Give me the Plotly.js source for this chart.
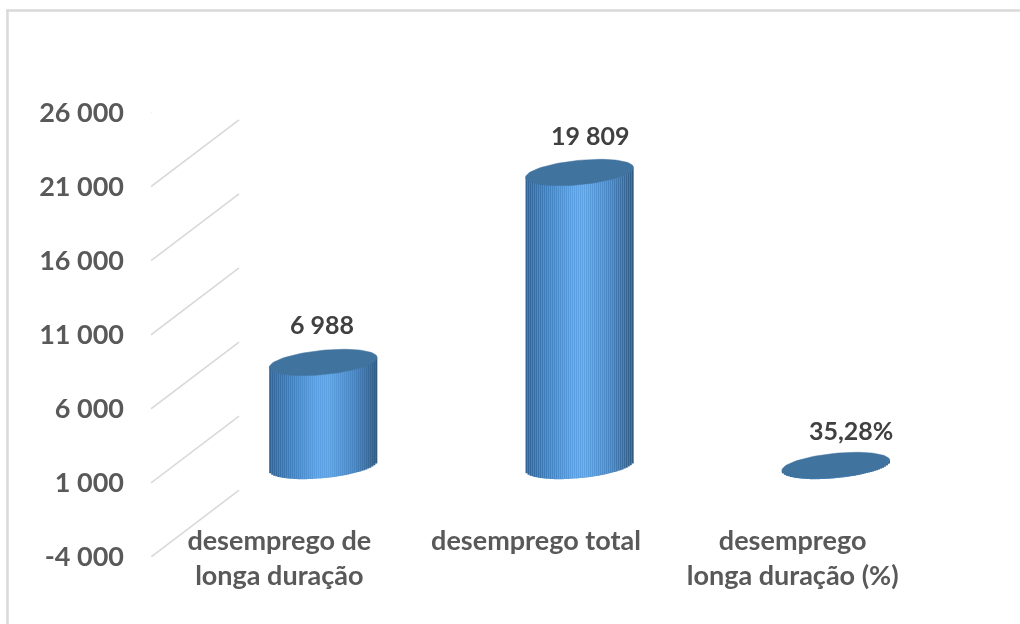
<!DOCTYPE html>
<html>
<head>
<meta charset="utf-8">
<script src="https://cdn.plot.ly/plotly-3.0.1.min.js"></script>
<style>html,body{margin:0;padding:0;background:#fff;overflow:hidden}#c{width:1020px;height:624px;filter:blur(0.35px)}</style>
</head>
<body>
<div id="c"></div>
<script>
const categories = ["desemprego de<br>longa duração", "desemprego total", "desemprego<br>longa duração (%)"];
const values = [6988, 19809, 35.28];
const valueLabels = ["6 988", "19 809", "35,28%"];
const tickValues = [-4000, 1000, 6000, 11000, 16000, 21000, 26000];
const tickLabels = ["-4 000", "1 000", "6 000", "11 000", "16 000", "21 000", "26 000"];
const labelShiftX = [-1, 11, 15];
const labelShiftY = [38, 37, 35];

const W = 1020, H = 624;
const pxPerUnit = 444.5 / 30000;
const yDomain = (bottom, top) => [(H - bottom) / H, (H - top) / H];
const xDomain = (l, r) => [l / W, r / W];
const xRange = [-0.5, 2.5], yRange = [-4000, 26000];
const bandPx = 256.5, barFrac = 108 / bandPx;
const tiltPx = 5, semiMinorPx = 12.2;

const stops = [[0,[50,100,150]],[0.2,[64,128,190]],[0.45,[91,160,226]],[0.55,[94,162,226]],[0.8,[70,130,190]],[1,[47,90,130]]];
function shade(t){
  for(let i=1;i<stops.length;i++){
    if(t<=stops[i][0]){
      const a=stops[i-1],b=stops[i],k=(t-a[0])/(b[0]-a[0]);
      return 'rgb('+a[1].map((c,j)=>Math.round(c+(b[1][j]-c)*k)).join(',')+')';
    }
  }
  return 'rgb(47,90,130)';
}

const traces = [];
// depth lines joining the front axis ticks to the back wall gridlines
const depthX = 88 / bandPx, depthY = 66.8 / pxPerUnit;
tickValues.forEach(v => traces.push({
  type:'scatter', mode:'lines', xaxis:'x2', yaxis:'y2', cliponaxis:false, hoverinfo:'skip', showlegend:false,
  x:[xRange[0], xRange[0]+depthX], y:[v, v+depthY], line:{color:'#d9d9d9', width:1.6}
}));
// cylinder bodies: vertical strips, shaded across the width
const N = 54, dw = barFrac / N;
for(let i=0;i<N;i++){
  const u = (i+0.5)/N*2-1;
  const tilt = tiltPx*u/pxPerUnit;
  const low = (tiltPx*u - semiMinorPx*Math.sqrt(1-u*u))/pxPerUnit;
  traces.push({
    type:'bar', xaxis:'x3', yaxis:'y3', showlegend:false, hoverinfo:'skip',
    x:[0,1,2], y:values.map(v=>v+tilt-low), base:values.map(()=>low),
    width:dw*1.1, offset:-barFrac/2+i*dw,
    marker:{color:shade(i/(N-1)), line:{width:0}}
  });
}
// cylinder top faces
values.forEach((v,k)=>{
  const xs=[],ys=[];
  for(let d=0;d<=360;d+=4){
    const t=d*Math.PI/180;
    xs.push(k+barFrac/2*Math.cos(t));
    ys.push(v+(tiltPx*Math.cos(t)+semiMinorPx*Math.sin(t))/pxPerUnit);
  }
  traces.push({type:'scatter',mode:'lines',xaxis:'x3',yaxis:'y3',x:xs,y:ys,fill:'toself',fillcolor:'#41739f',line:{width:0.5,color:'#41739f'},hoverinfo:'skip',showlegend:false});
});

const font = {family:'Lato, "Open Sans", sans-serif', size:27, color:'#595959', weight:700};
const hidden = {visible:false, fixedrange:true};
const layout = {
  width:W, height:H, margin:{l:0,r:0,t:0,b:0}, paper_bgcolor:'#fff', plot_bgcolor:'rgba(0,0,0,0)',
  showlegend:false, barmode:'overlay', font,
  // back wall
  xaxis:{...hidden, domain:xDomain(239,1008), range:xRange, anchor:'y'},
  yaxis:{domain:yDomain(490.5,45.5), range:yRange, tickvals:tickValues, showticklabels:false, ticks:'',
         showgrid:true, gridcolor:'#d9d9d9', gridwidth:2, zeroline:false, showline:false, anchor:'x', fixedrange:true},
  // front plane: tick labels
  xaxis2:{domain:xDomain(151,921), range:xRange, anchor:'free', position:(H-522)/H, tickvals:[0,1,2], ticktext:categories,
          showgrid:false, zeroline:false, showline:false, ticks:'', tickfont:font, fixedrange:true, tickangle:0},
  yaxis2:{domain:yDomain(557,112.5), range:yRange, tickvals:tickValues, ticktext:tickLabels, showgrid:false, zeroline:false,
          showline:false, ticks:'', tickfont:font, anchor:'x2', ticklabelstandoff:26, fixedrange:true},
  // cylinder plane
  xaxis3:{...hidden, domain:xDomain(195,964), range:xRange, anchor:'y3'},
  yaxis3:{...hidden, domain:yDomain(466+4000*pxPerUnit,466-26000*pxPerUnit), range:yRange, anchor:'x3'},
  shapes:[
    {type:'line',xref:'paper',yref:'paper',x0:7.5/W,x1:7.5/W,y0:0,y1:(H-10)/H,line:{color:'#d9d9d9',width:2.5}},
    {type:'line',xref:'paper',yref:'paper',x0:6/W,x1:1,y0:(H-10.5)/H,y1:(H-10.5)/H,line:{color:'#d9d9d9',width:2.5}}
  ],
  annotations: values.map((v,k)=>({
    xref:'x3', yref:'y3', x:k, y:v, text:valueLabels[k], showarrow:false, xshift:labelShiftX[k], yshift:labelShiftY[k],
    font:{family:font.family,size:25,color:'#404040',weight:700}, xanchor:'center', yanchor:'middle'
  }))
};
Plotly.newPlot('c', traces, layout, {displayModeBar:false, staticPlot:true});
</script>
</body>
</html>
